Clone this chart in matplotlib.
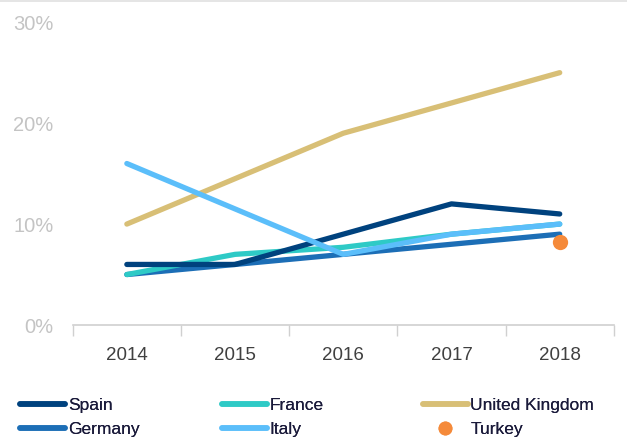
import matplotlib.pyplot as plt
from matplotlib.lines import Line2D

plt.rcParams['font.family'] = ['Liberation Sans', 'DejaVu Sans']

years = ['2014', '2015', '2016', '2017', '2018']
spain = [6, 6, 9, 12, 11]
france = [5, 7, 7.7, 9, 10]
uk = [10, 14.5, 19, 22, 25]
germany = [5, 6, 7, 8, 9]
italy = [16, 11.5, 7, 9, 10]
turkey_year = '2018'
turkey = 8.2

colors = {
    'Spain': '#00427E',
    'France': '#2ECAC6',
    'United Kingdom': '#D8BF76',
    'Germany': '#1C6EB6',
    'Italy': '#5BBEFA',
    'Turkey': '#F58A3A',
}

fig = plt.figure(figsize=(6.27, 4.44), dpi=100)
ax = fig.add_axes([0.116, 0.268, 0.863, 0.682])

x = list(range(len(years)))
series = [('United Kingdom', uk), ('Germany', germany), ('France', france),
          ('Spain', spain), ('Italy', italy)]
for name, vals in series:
    ax.plot(x, vals, color=colors[name], lw=3.8, solid_capstyle='round',
            solid_joinstyle='round')
ax.plot(years.index(turkey_year), turkey, 'o', color=colors['Turkey'],
        markersize=11, markeredgewidth=0)

ax.set_xlim(-0.5, len(years) - 0.5)
ax.set_ylim(0, 30)
ax.set_yticks([0, 10, 20, 30])
ax.set_yticklabels(['0%', '10%', '20%', '30%'], color='#C4C4C4', fontsize=14.5)
ax.set_xticks(x)
ax.set_xticklabels(years, color='#404040', fontsize=13.5)
ax.set_xticks([i - 0.5 for i in range(len(years) + 1)], minor=True)
ax.tick_params(axis='x', which='major', length=0, pad=16)
ax.tick_params(axis='x', which='minor', length=8, color='#D0D0D0', width=1)
ax.tick_params(axis='y', length=0, pad=14)
for s in ['top', 'right', 'left']:
    ax.spines[s].set_visible(False)
ax.spines['bottom'].set_color('#D0D0D0')
ax.spines['bottom'].set_linewidth(1.2)

# thin border line at the top of the picture
fig.add_artist(Line2D([0, 1], [0.997, 0.997], color='#E0E0E0', lw=1.2))


def line_handle(name):
    if name == 'Turkey':
        return Line2D([], [], ls='none', marker='o', markersize=10,
                      markeredgewidth=0, color=colors[name])
    return Line2D([], [], color=colors[name], lw=4, solid_capstyle='round')


# one legend per column so each column starts where the reference has it
columns = [(['Spain', 'Germany'], 0.018),
           (['France', 'Italy'], 0.340),
           (['United Kingdom', 'Turkey'], 0.660)]
for names, x0 in columns:
    leg = fig.legend([line_handle(n) for n in names], names, loc='lower left',
                     bbox_to_anchor=(x0, -0.003), ncol=1, frameon=False,
                     fontsize=12.5, handlelength=2.6, handletextpad=0.15,
                     labelspacing=0.5, borderaxespad=0.2, borderpad=0.3,
                     labelcolor='#1A1A3A')
    fig.add_artist(leg)

fig.savefig('out.png', dpi=100)
